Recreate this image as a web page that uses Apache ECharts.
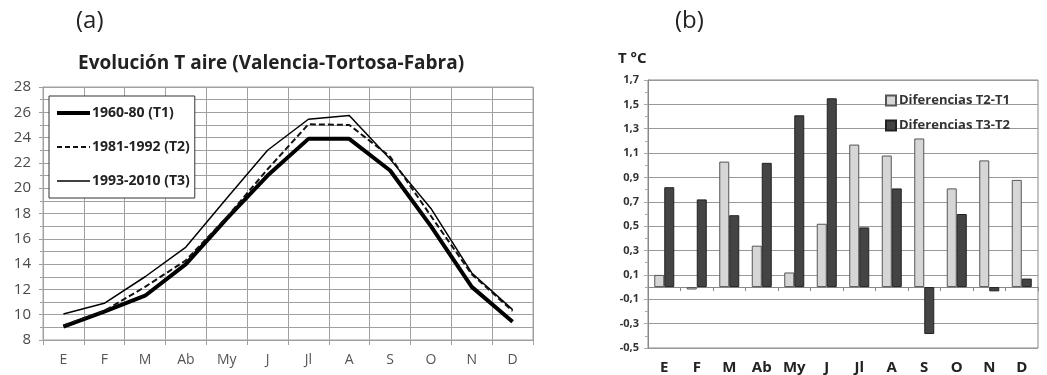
<!DOCTYPE html>
<html>
<head>
<meta charset="utf-8">
<script src="https://cdn.jsdelivr.net/npm/echarts@6/dist/echarts.min.js"></script>
<style>
  html, body { margin: 0; padding: 0; background: #fff; }
  #main { width: 1047px; height: 375px; }
</style>
</head>
<body>
<div id="main"></div>
<script>
var months = ['E', 'F', 'M', 'Ab', 'My', 'J', 'Jl', 'A', 'S', 'O', 'N', 'D'];

// (a) mean air temperature per period
var t1 = [9.05, 10.25, 11.5, 14.0, 17.6, 21.0, 23.9, 23.9, 21.4, 17.0, 12.2, 9.45];
var t2 = [9.15, 10.3, 12.2, 14.3, 17.7, 21.5, 25.05, 25.0, 22.5, 17.8, 13.2, 10.3];
var t3 = [10.05, 10.9, 13.0, 15.35, 19.2, 23.0, 25.45, 25.75, 22.3, 18.4, 13.3, 10.4];

// (b) differences between periods
var diffT2T1 = [0.10, -0.02, 1.03, 0.34, 0.12, 0.52, 1.17, 1.08, 1.22, 0.81, 1.04, 0.88];
var diffT3T2 = [0.82, 0.72, 0.59, 1.02, 1.41, 1.55, 0.49, 0.81, -0.385, 0.60, -0.035, 0.07];

var font = 'Open Sans';
var gridColor = '#a0a0a0';

var chart = echarts.init(document.getElementById('main'));

var option = {
    backgroundColor: '#fff',
    animation: false,
    textStyle: { fontFamily: font },
    title: [
        { text: '(a)', left: 71, top: 4, textStyle: { fontSize: 24, fontWeight: 'normal', color: '#222', fontFamily: font } },
        { text: 'Evolución T aire (Valencia-Tortosa-Fabra)', left: 73, top: 49,
          textStyle: { fontSize: 19, fontWeight: 'bold', color: '#222', fontFamily: font } },
        { text: '(b)', left: 670, top: 4, textStyle: { fontSize: 24, fontWeight: 'normal', color: '#222', fontFamily: font } },
        { text: 'T °C', left: 613, top: 46, textStyle: { fontSize: 15, fontWeight: 'bold', color: '#222', fontFamily: font } }
    ],
    legend: [
        {
            data: [
                { name: '1960-80 (T1)', lineStyle: { width: 4, color: '#000' } },
                { name: '1981-1992 (T2)', lineStyle: { width: 2, color: '#111', type: [5, 3] } },
                { name: '1993-2010 (T3)', lineStyle: { width: 1.5, color: '#000' } }
            ],
            orient: 'vertical',
            left: 49, top: 96,
            backgroundColor: '#fff',
            borderColor: '#333', borderWidth: 1,
            padding: [10, 5, 10, 6],
            itemWidth: 33, itemHeight: 14, itemGap: 20,
            itemStyle: { color: 'rgba(0,0,0,0)', borderWidth: 0, opacity: 0 },
            textStyle: { fontSize: 14, fontWeight: 'bold', color: '#222', fontFamily: font, padding: [0, 0, 0, -3] }
        },
        {
            data: ['Diferencias T2-T1', 'Diferencias T3-T2'],
            orient: 'vertical',
            left: 880, top: 89,
            itemWidth: 10, itemHeight: 10, itemGap: 12,
            icon: 'rect',
            textStyle: { fontSize: 13, fontWeight: 'bold', color: '#333', fontFamily: font, padding: [0, 0, 0, -2] }
        }
    ],
    grid: [
        { left: 43, top: 87, width: 490, height: 253, show: true, borderColor: gridColor, borderWidth: 1 },
        { left: 648, top: 80, width: 390, height: 272, show: true, borderColor: '#888', borderWidth: 1 }
    ],
    xAxis: [
        {
            gridIndex: 0, type: 'category', data: months, boundaryGap: true,
            axisLine: { lineStyle: { color: gridColor } },
            axisTick: { show: true, length: 5, lineStyle: { color: gridColor } },
            splitLine: { show: true, lineStyle: { color: gridColor, width: 1 } },
            axisLabel: { fontSize: 14, color: '#555', margin: 13 }
        },
        {
            gridIndex: 1, type: 'category', data: months,
            axisLine: { onZero: true, lineStyle: { color: '#888' } },
            axisTick: { show: true, length: 4, lineStyle: { color: '#888' } },
            axisLabel: { fontSize: 15, fontWeight: 'bold', color: '#222', margin: 12 }
        }
    ],
    yAxis: [
        {
            gridIndex: 0, type: 'value', min: 8, max: 28, interval: 2,
            axisLine: { show: true, lineStyle: { color: gridColor } },
            axisTick: { show: true, length: 4, lineStyle: { color: gridColor } },
            minorTick: { show: true, splitNumber: 2, length: 3, lineStyle: { color: gridColor } },
            splitLine: { show: true, lineStyle: { color: gridColor } },
            minorSplitLine: { show: true, lineStyle: { color: gridColor } },
            axisLabel: { fontSize: 15, color: '#4a4a4a', margin: 12 }
        },
        {
            gridIndex: 1, type: 'value', min: -0.5, max: 1.7, interval: 0.2,
            axisLine: { show: true, lineStyle: { color: '#888' } },
            axisTick: { show: true, length: 4, lineStyle: { color: '#aaa' } },
            minorTick: { show: true, splitNumber: 2, length: 3, lineStyle: { color: '#aaa' } },
            splitLine: { show: true, lineStyle: { color: '#999' } },
            axisLabel: {
                fontSize: 11, fontWeight: 'bold', color: '#333', margin: 9,
                formatter: function (v) { return v.toFixed(1).replace('.', ','); }
            }
        }
    ],
    series: [
        {
            name: '1960-80 (T1)', type: 'line', xAxisIndex: 0, yAxisIndex: 0,
            data: t1, symbol: 'none', smooth: false,
            lineStyle: { color: '#000', width: 4 }, itemStyle: { color: '#000' }, z: 3
        },
        {
            name: '1981-1992 (T2)', type: 'line', xAxisIndex: 0, yAxisIndex: 0,
            data: t2, symbol: 'none',
            lineStyle: { color: '#111', width: 2, type: [6, 3] }, itemStyle: { color: '#111' }, z: 4
        },
        {
            name: '1993-2010 (T3)', type: 'line', xAxisIndex: 0, yAxisIndex: 0,
            data: t3, symbol: 'none',
            lineStyle: { color: '#000', width: 1.5 }, itemStyle: { color: '#000' }, z: 2
        },
        {
            name: 'Diferencias T2-T1', type: 'bar', xAxisIndex: 1, yAxisIndex: 1,
            data: diffT2T1, barWidth: 10, barGap: '0%',
            itemStyle: { color: '#d6d6d6', borderColor: '#555', borderWidth: 1 }
        },
        {
            name: 'Diferencias T3-T2', type: 'bar', xAxisIndex: 1, yAxisIndex: 1,
            data: diffT3T2, barWidth: 10, barGap: '0%',
            itemStyle: { color: '#444', borderColor: '#222', borderWidth: 1 }
        }
    ]
};

chart.setOption(option);
</script>
</body>
</html>
